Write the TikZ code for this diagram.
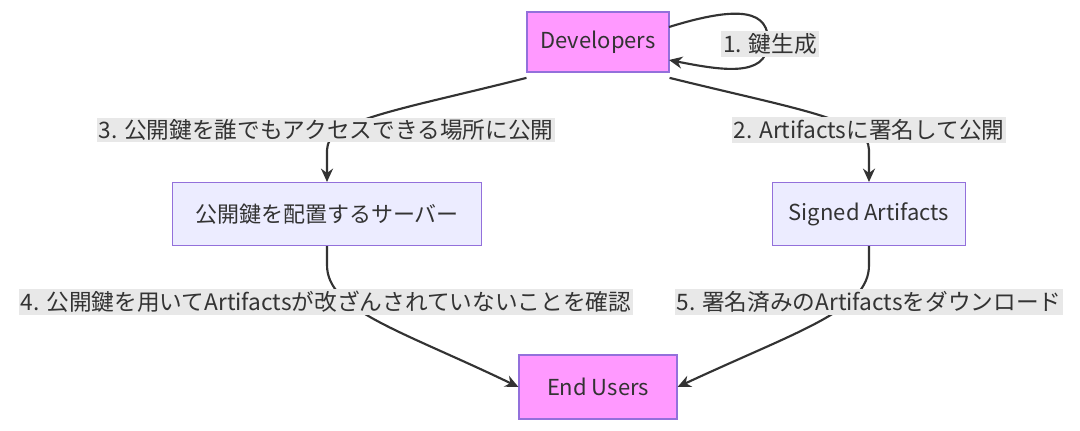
\documentclass[tikz,border=0pt]{standalone}
\usepackage{fontspec}
\setmainfont{Noto Sans CJK JP}
\usetikzlibrary{arrows.meta}
\definecolor{pinkf}{HTML}{FF99FF}
\definecolor{lavf}{HTML}{ECECFF}
\definecolor{bord}{HTML}{9370DB}
\definecolor{lbl}{HTML}{E8E8E8}
\definecolor{ln}{HTML}{333333}
\begin{document}
\begin{tikzpicture}[x=0.75pt,y=-0.75pt,
  box/.style={draw=bord,line width=0.8pt,font=\fontsize{16.5}{18}\selectfont,text=ln,inner sep=0pt},
  pk/.style={box,fill=pinkf},
  lv/.style={box,fill=lavf},
  lab/.style={fill=lbl,font=\fontsize{17}{19}\selectfont,text=ln,inner sep=1.5pt},
  e/.style={draw=ln,line width=1.6pt,-{Stealth[length=10pt,width=9pt]}}]
\useasboundingbox (0,0) rectangle (1080,431);
\node[pk,minimum width=142*0.75pt,minimum height=60*0.75pt] (dev) at (598,42) {Developers};
\node[lv,minimum width=309*0.75pt,minimum height=63*0.75pt] (srv) at (327,214) {公開鍵を配置するサーバー};
\node[lv,minimum width=193*0.75pt,minimum height=63*0.75pt] (sig) at (869,214) {Signed Artifacts};
\node[pk,minimum width=158*0.75pt,minimum height=64*0.75pt] (eu) at (598,387) {End Users};
\coordinate (d1) at (669,27);
\coordinate (d2) at (669,60);
\draw[e] (d1) .. controls (740,5) and (770,10) .. (768,44) .. controls (766,78) and (720,70) .. (d2);
\node[lab] at (770,44) {1. 鍵生成};
\draw[e] (dev.south west) ++(0,-4pt) coordinate (a1) (a1) .. controls (400,110) and (327,120) .. (327,150) -- (srv.north);
\node[lab] at (326,130) {3. 公開鍵を誰でもアクセスできる場所に公開};
\draw[e] (dev.south east) ++(0,-4pt) coordinate (a2) (a2) .. controls (800,110) and (869,120) .. (869,150) -- (sig.north);
\node[lab] at (869,130) {2. Artifactsに署名して公開};
\draw[e] (srv.south) -- (327,265) .. controls (327,310) and (400,330) .. (eu.west);
\node[lab] at (326,302) {4. 公開鍵を用いてArtifactsが改ざんされていないことを確認};
\draw[e] (sig.south) -- (869,265) .. controls (869,310) and (800,330) .. (eu.east);
\node[lab] at (869,302) {5. 署名済みのArtifactsをダウンロード};
\end{tikzpicture}
\end{document}
